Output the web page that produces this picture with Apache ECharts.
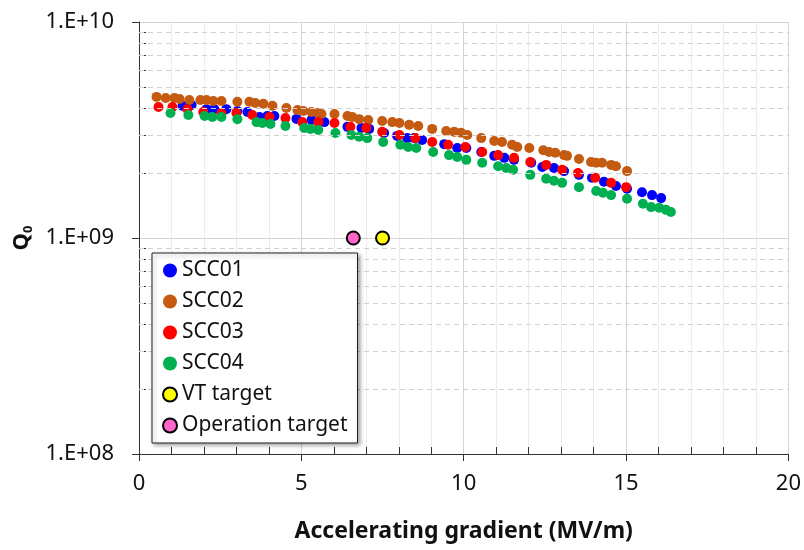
<!DOCTYPE html>
<html>
<head>
<meta charset="utf-8">
<script src="https://cdn.jsdelivr.net/npm/echarts@6/dist/echarts.min.js"></script>
<style>
html, body { margin: 0; padding: 0; background: #fff; }
#chart { width: 804px; height: 550px; }
</style>
</head>
<body>
<div id="chart"></div>
<script>
// Q0 vs accelerating gradient for the four cryomodules
const scc01X = [1.34, 1.62, 2.08, 2.32, 2.69, 3.03, 3.34, 3.71, 3.95, 4.17, 4.85, 5.31, 5.71, 6.42, 6.85, 7.09, 7.55, 7.95, 8.26, 8.48, 8.72, 9.40, 9.80, 10.08, 10.54, 10.94, 11.25, 11.55, 12.08, 12.42, 12.78, 13.09, 13.55, 13.95, 14.32, 14.69, 15.03, 15.49, 15.80, 16.08];
const scc01Q = [4.09e9, 4.13e9, 3.95e9, 3.95e9, 3.95e9, 3.87e9, 3.83e9, 3.63e9, 3.67e9, 3.67e9, 3.56e9, 3.52e9, 3.44e9, 3.27e9, 3.23e9, 3.20e9, 3.06e9, 2.97e9, 2.90e9, 2.90e9, 2.84e9, 2.72e9, 2.61e9, 2.61e9, 2.50e9, 2.40e9, 2.35e9, 2.30e9, 2.23e9, 2.13e9, 2.11e9, 2.04e9, 1.96e9, 1.90e9, 1.82e9, 1.74e9, 1.69e9, 1.63e9, 1.58e9, 1.53e9];

const scc02X = [0.54, 0.82, 1.09, 1.25, 1.55, 1.89, 2.08, 2.29, 2.54, 3.03, 3.40, 3.58, 3.83, 4.11, 4.54, 4.88, 5.06, 5.31, 5.52, 5.62, 6.02, 6.42, 6.57, 6.78, 7.06, 7.49, 7.80, 8.02, 8.32, 8.60, 9.03, 9.46, 9.71, 9.92, 10.11, 10.54, 10.94, 11.18, 11.49, 11.65, 12.02, 12.45, 12.63, 12.82, 13.09, 13.18, 13.55, 13.92, 14.08, 14.26, 14.54, 14.69, 15.03];
const scc02Q = [4.50e9, 4.45e9, 4.45e9, 4.40e9, 4.35e9, 4.35e9, 4.35e9, 4.31e9, 4.31e9, 4.27e9, 4.27e9, 4.22e9, 4.18e9, 4.09e9, 4.00e9, 3.91e9, 3.87e9, 3.83e9, 3.79e9, 3.75e9, 3.75e9, 3.67e9, 3.63e9, 3.55e9, 3.52e9, 3.48e9, 3.44e9, 3.41e9, 3.34e9, 3.30e9, 3.20e9, 3.13e9, 3.10e9, 3.07e9, 3.00e9, 2.90e9, 2.81e9, 2.78e9, 2.70e9, 2.64e9, 2.61e9, 2.55e9, 2.50e9, 2.48e9, 2.42e9, 2.40e9, 2.32e9, 2.25e9, 2.23e9, 2.23e9, 2.18e9, 2.15e9, 2.04e9];

const scc03X = [0.60, 1.03, 1.49, 1.98, 2.54, 3.00, 3.49, 4.02, 4.51, 5.03, 5.52, 6.02, 6.51, 7.00, 7.49, 8.02, 8.51, 9.03, 9.52, 10.05, 10.57, 11.06, 11.55, 12.05, 12.54, 13.03, 13.52, 14.05, 14.54, 15.00];
const scc03Q = [4.04e9, 4.04e9, 3.95e9, 3.83e9, 3.79e9, 3.79e9, 3.71e9, 3.63e9, 3.59e9, 3.44e9, 3.44e9, 3.41e9, 3.27e9, 3.23e9, 3.10e9, 3.00e9, 2.90e9, 2.78e9, 2.70e9, 2.64e9, 2.50e9, 2.42e9, 2.35e9, 2.25e9, 2.18e9, 2.07e9, 2.00e9, 1.90e9, 1.80e9, 1.72e9];

const scc04X = [0.97, 1.52, 2.02, 2.26, 2.54, 3.03, 3.62, 3.80, 4.05, 4.51, 5.09, 5.28, 5.52, 6.05, 6.54, 6.78, 7.03, 7.52, 8.05, 8.29, 8.54, 9.06, 9.55, 9.80, 10.08, 10.57, 11.06, 11.31, 11.52, 12.05, 12.54, 12.78, 13.03, 13.55, 14.08, 14.29, 14.54, 15.03, 15.52, 15.77, 16.02, 16.23, 16.38];
const scc04Q = [3.79e9, 3.71e9, 3.67e9, 3.63e9, 3.63e9, 3.55e9, 3.44e9, 3.41e9, 3.37e9, 3.30e9, 3.23e9, 3.20e9, 3.16e9, 3.06e9, 3.00e9, 2.94e9, 2.90e9, 2.78e9, 2.70e9, 2.64e9, 2.61e9, 2.50e9, 2.42e9, 2.37e9, 2.30e9, 2.23e9, 2.15e9, 2.11e9, 2.07e9, 1.96e9, 1.88e9, 1.84e9, 1.80e9, 1.72e9, 1.65e9, 1.62e9, 1.58e9, 1.52e9, 1.44e9, 1.39e9, 1.38e9, 1.35e9, 1.32e9];

const vtTargetX = [7.5];
const vtTargetQ = [1e9];
const opTargetX = [6.6];
const opTargetQ = [1e9];

const yTickValues = [1e8, 1e9, 1e10];
const yTickLabels = ["1.E+08", "1.E+09", "1.E+10"];
const yMinorMantissas = [2, 3, 4, 5, 6, 7, 8, 9];

const FONT = "Noto Sans";

function pairs(xs, ys) {
    return xs.map((x, i) => [x, ys[i]]);
}

const yMinorValues = [];
[1e8, 1e9].forEach((d) => {
    yMinorMantissas.forEach((m) => yMinorValues.push(m * d));
});

const chart = echarts.init(document.getElementById("chart"));

function dots(name, xs, ys, color) {
    return {
        name: name,
        type: "scatter",
        data: pairs(xs, ys),
        symbolSize: 10,
        itemStyle: { color: color, opacity: 1 },
        z: 3,
    };
}

function target(name, xs, ys, color) {
    return {
        name: name,
        type: "scatter",
        data: pairs(xs, ys),
        symbolSize: 13,
        itemStyle: { color: color, borderColor: "#000", borderWidth: 2, opacity: 1 },
        z: 4,
    };
}

const option = {
    animation: false,
    textStyle: { fontFamily: FONT },
    grid: { left: 139, right: 14, top: 22, bottom: 96 },
    legend: {
        orient: "vertical",
        left: 152,
        top: 253,
        z: 20,
        padding: [5, 10, 5, 10],
        itemGap: 6,
        itemWidth: 14,
        itemHeight: 14,
        icon: "circle",
        backgroundColor: "#fff",
        borderColor: "#222",
        borderWidth: 1,
        borderRadius: 0,
        shadowBlur: 4,
        shadowColor: "rgba(0,0,0,0.35)",
        shadowOffsetX: 2,
        shadowOffsetY: 2,
        textStyle: { fontFamily: FONT, fontSize: 21, color: "#111", lineHeight: 25 },
        data: ["SCC01", "SCC02", "SCC03", "SCC04", "VT target", "Operation target"],
    },
    xAxis: [
        {
            type: "value",
            min: 0,
            max: 20,
            interval: 5,
            name: "Accelerating gradient (MV/m)",
            nameLocation: "middle",
            nameGap: 66,
            nameTextStyle: { fontFamily: FONT, fontSize: 23, fontWeight: "bold", color: "#111" },
            axisLine: { show: true, lineStyle: { color: "#333", width: 1 } },
            axisTick: { show: true, inside: false, length: 7, lineStyle: { color: "#333" } },
            axisLabel: { fontFamily: FONT, fontSize: 22, color: "#111", margin: 19 },
            splitLine: { show: true, lineStyle: { color: "#d4d4d4", width: 1 } },
            z: 2,
        },
        {
            type: "value",
            min: 0,
            max: 20,
            interval: 1,
            position: "bottom",
            axisLine: { show: false },
            axisTick: { show: true, inside: true, length: 7, lineStyle: { color: "#333" } },
            axisLabel: { show: false },
            splitLine: { show: true, lineStyle: { color: "#ececec", width: 1 } },
            z: 1,
        },
    ],
    yAxis: [
        {
            type: "log",
            logBase: 10,
            min: 1e8,
            max: 1e10,
            name: "{q|Q}{s|0}",
            nameLocation: "middle",
            nameRotate: 90,
            nameGap: 104,
            nameTextStyle: {
                rich: {
                    q: { fontFamily: FONT, fontSize: 22, fontWeight: "bold", color: "#111" },
                    s: { fontFamily: FONT, fontSize: 13, fontWeight: "bold", color: "#111", padding: [12, 0, 0, 0] },
                },
            },
            axisLine: { show: true, lineStyle: { color: "#333", width: 1 } },
            axisTick: { show: true, inside: false, length: 7, lineStyle: { color: "#333" } },
            axisLabel: {
                fontFamily: FONT,
                fontSize: 22,
                color: "#111",
                margin: 25,
                formatter: (v) => {
                    const i = yTickValues.findIndex((t) => Math.abs(Math.log10(t) - Math.log10(v)) < 1e-6);
                    return i >= 0 ? yTickLabels[i] : "";
                },
            },
            splitLine: { show: true, lineStyle: { color: "#d4d4d4", width: 1 } },
            z: 2,
        },
        {
            type: "log",
            logBase: 10,
            min: 1e8,
            max: 1e10,
            position: "left",
            axisLine: { show: false },
            axisTick: { show: true, inside: true, length: 7, customValues: yMinorValues, lineStyle: { color: "#333" } },
            axisLabel: { show: false },
            splitLine: { show: false },
            z: 1,
        },
    ],
    series: [
        dots("SCC01", scc01X, scc01Q, "#0000ff"),
        dots("SCC02", scc02X, scc02Q, "#c55a11"),
        dots("SCC03", scc03X, scc03Q, "#ff0000"),
        dots("SCC04", scc04X, scc04Q, "#00b050"),
        target("VT target", vtTargetX, vtTargetQ, "#ffff00"),
        target("Operation target", opTargetX, opTargetQ, "#ff66cc"),
        {
            name: "minor grid",
            type: "line",
            data: [],
            silent: true,
            markLine: {
                silent: true,
                symbol: "none",
                label: { show: false },
                lineStyle: { color: "#d0d0d0", type: [5, 4], width: 1 },
                data: yMinorValues.map((v) => ({ yAxis: v })),
            },
            z: 0,
        },
    ],
};

chart.setOption(option);
</script>
</body>
</html>
